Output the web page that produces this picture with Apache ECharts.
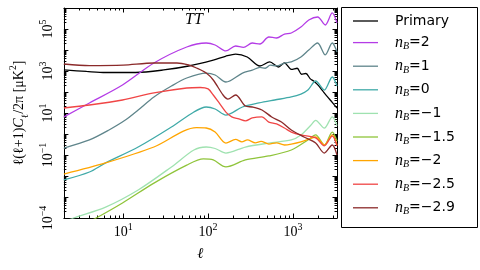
<!DOCTYPE html>
<html><head><meta charset="utf-8">
<script src="https://cdn.jsdelivr.net/npm/echarts@6/dist/echarts.min.js"></script>
<style>html,body{margin:0;padding:0;background:#fff}#c{width:480px;height:270px}</style>
</head><body><div id="c"></div>
<script>
// ---- data (ell, l(l+1)C_l/2pi in muK^2) ----
const seriesNames = ['Primary', 'nB=2', 'nB=1', 'nB=0', 'nB=−1', 'nB=−1.5', 'nB=−2', 'nB=−2.5', 'nB=−2.9'];
const seriesColors = ['#000000', '#b43ce6', '#5f858b', '#40aaa8', '#9fe2b0', '#8fc43a', '#ffa500', '#f04545', '#8b2a2a'];

const primary = [[2,1120],[3.7,950],[6.2,850],[14,850],[30,1120],[59,1730],[115,3300],[160,5000],[211,6400],[289,4650],[408,1730],[532,2700],[676,1550],[793,2450],[955,1200],[1120,1350],[1260,700],[1420,760],[1600,420],[1750,330],[2000,200],[2250,110],[2540,60],[2900,32],[3300,17]];
const nB2 = [[2,6.5],[4,30],[9.8,215],[23,2400],[56,13900],[95,21500],[121,17300],[162,9000],[211,15500],[261,13200],[331,21500],[408,19300],[519,41600],[641,37300],[793,57500],[955,64600],[1240,124000],[1535,270000],[1950,373000],[2400,155000],[2900,580000],[3300,193000]];
const nB1 = [[2,0.215],[4,0.52],[6.8,1.55],[10.6,4.6],[15,13.9],[23,58],[37,193],[56,464],[95,800],[121,645],[162,300],[254,800],[331,1100],[408,1500],[470,1350],[540,1900],[640,1750],[793,2400],[955,2690],[1240,4640],[1535,10000],[1950,21500],[2400,5800],[2900,21500],[3300,8000]];
const nB0 = [[2,0.0065],[4,0.0155],[6.2,0.042],[15,0.24],[37,2.15],[68,11.2],[95,19.3],[121,15.5],[162,8.0],[254,19.3],[398,30],[608,41.6],[955,58],[1240,80],[1500,124],[1850,334],[2340,124],[2900,518],[3300,193]];
const nBm1 = [[2,6.5e-5],[2.6,1e-4],[6.2,3.3e-4],[15,2.15e-3],[37,0.027],[68,0.173],[95,0.24],[121,0.204],[162,0.124],[275,0.24],[519,0.37],[955,0.52],[1240,0.9],[1620,2.6],[1850,4.5],[2340,1.9],[2900,6.5],[3300,2.5]];
const nBm15 = [[2,1.5e-5],[4.8,1e-4],[9.8,5.2e-4],[23,4.6e-3],[56,0.033],[88,0.065],[115,0.058],[162,0.027],[275,0.058],[519,0.09],[955,0.173],[1500,0.52],[1850,0.9],[2340,0.3],[2900,1.24],[3300,0.46]];
const nBm2 = [[2,0.0124],[6.2,0.042],[23,0.24],[73,2.0],[95,1.93],[121,1.24],[162,0.37],[211,0.55],[250,0.42],[290,0.52],[360,0.38],[420,0.45],[520,0.33],[640,0.38],[793,0.3],[955,0.33],[1240,0.42],[1600,0.6],[1850,0.72],[2340,0.3],[2900,0.9],[3300,0.3]];
const nBm25 = [[2,17.3],[4,24],[9.8,41.6],[23,90],[56,155],[81,164],[100,140],[115,72],[135,30],[162,11],[190,6.5],[230,5.2],[275,4.2],[331,5.8],[431,6.5],[519,3.7],[641,3.0],[793,1.93],[955,1.24],[1240,0.9],[1850,0.65],[2340,0.27],[2900,0.8],[3300,0.27]];
const nBm29 = [[2,2150],[4,1800],[10,1900],[23,2400],[43,2400],[59,1930],[73,1390],[95,800],[115,373],[150,72],[171,46],[211,72],[275,21.5],[331,19.3],[431,13.9],[561,6.5],[731,3.7],[955,1.55],[1345,0.72],[1850,0.37],[2340,0.124],[2900,0.3],[3300,0.1]];
const seriesData = [primary, nB2, nB1, nB0, nBm1, nBm15, nBm2, nBm25, nBm29];

// ---- ticks ----
const xMajorTicks = [10, 100, 1000];
const xMinorTicks = [2,3,4,5,6,7,8,9,20,30,40,50,60,70,80,90,200,300,400,500,600,700,800,900,2000,3000];
const yMajorTicks = [1e-4,1e-3,1e-2,1e-1,1,1e1,1e2,1e3,1e4,1e5,1e6];
const yLabelTicks = [1e-4, 1e-1, 1e1, 1e3, 1e5];
const yMinorTicks = [];
for (let d = -4; d < 6; d++) for (let k = 2; k <= 9; k++) yMinorTicks.push(k * Math.pow(10, d));

const serif = '"Liberation Serif", "DejaVu Serif", serif';
const powRich = {
  b: { fontSize: 14, fontFamily: serif, color: '#000', lineHeight: 20 },
  s: { fontSize: 10, fontFamily: serif, color: '#000', verticalAlign: 'top', lineHeight: 20 }
};
function powFmt(v) {
  const e = Math.round(Math.log10(v));
  return '{b|10}{s|' + String(e).replace('-', '−') + '}';
}

const chart = echarts.init(document.getElementById('c'), null, { renderer: 'canvas' });
const axLine = { show: true, onZero: false, lineStyle: { color: '#000', width: 1 } };
function xAx(pos, major, withLabel) {
  return {
    type: 'log', logBase: 10, min: 2, max: 3300, position: pos,
    axisLine: major ? axLine : { show: false },
    axisTick: { show: true, inside: true, length: major ? 4.5 : 2.5, customValues: major ? xMajorTicks : xMinorTicks, lineStyle: { color: '#000', width: 1 } },
    axisLabel: withLabel ? { show: true, customValues: xMajorTicks, formatter: powFmt, rich: powRich, margin: 4 } : { show: false },
    splitLine: { show: false }, minorTick: { show: false },
    name: withLabel ? 'ℓ' : '', nameLocation: 'middle', nameGap: 29,
    nameTextStyle: { fontFamily: '"DejaVu Serif", serif', fontStyle: 'italic', fontSize: 15, color: '#000' }
  };
}
function yAx(pos, major, withLabel) {
  return {
    type: 'log', logBase: 10, min: 1e-4, max: 1e6, position: pos,
    axisLine: major ? axLine : { show: false },
    axisTick: { show: true, inside: true, length: major ? 4.5 : 2.5, customValues: major ? yMajorTicks : yMinorTicks, lineStyle: { color: '#000', width: 1 } },
    axisLabel: withLabel ? { show: true, customValues: yLabelTicks, formatter: powFmt, rich: powRich, rotate: 90, margin: 6 } : { show: false },
    splitLine: { show: false }, minorTick: { show: false },
    name: withLabel ? 'ℓ(ℓ+1){c|C}{sub|ℓ}/2π [μK{sup|2}]' : '',
    nameLocation: 'middle', nameRotate: 90, nameGap: 30,
    nameTextStyle: {
      fontFamily: serif, fontSize: 14, color: '#000', lineHeight: 22,
      rich: {
        c: { fontFamily: serif, fontStyle: 'italic', fontSize: 14, color: '#000', lineHeight: 22 },
        sub: { fontFamily: serif, fontSize: 9.5, color: '#000', verticalAlign: 'bottom', lineHeight: 22 },
        sup: { fontFamily: serif, fontSize: 9.5, color: '#000', verticalAlign: 'top', lineHeight: 22 }
      }
    }
  };
}

chart.setOption({
  animation: false,
  backgroundColor: '#fff',
  grid: { left: 57, top: 8, width: 280, height: 210, containLabel: false },
  xAxis: [xAx('bottom', true, true), xAx('bottom', false, false), xAx('top', true, false), xAx('top', false, false)],
  yAxis: [yAx('left', true, true), yAx('left', false, false), yAx('right', true, false), yAx('right', false, false)],
  graphic: [
    { type: 'rect', z: 1, shape: { x: 341.5, y: 7.5, width: 136, height: 220 }, style: { fill: '#fff', stroke: '#000', lineWidth: 1 } },
    { type: 'text', z: 5, left: 185, top: 12, style: { text: 'TT', font: 'italic 16px "Liberation Serif", serif', fill: '#000' } }
  ],
  legend: {
    orient: 'vertical', left: 353, top: 14, padding: 0, itemWidth: 25, itemHeight: 14, itemGap: 6.6, z: 10,
    icon: 'path://M0,0H25V1.3H0Z',
    data: seriesNames,
    formatter: function (name) {
      if (name === 'Primary') return '{p|Primary}';
      return '{n|n}{b|B}{t|' + name.slice(2) + '}';
    },
    textStyle: {
      padding: [0, 0, 0, 12], color: '#000',
      rich: {
        p: { fontFamily: '"DejaVu Sans", sans-serif', fontSize: 14, color: '#000', lineHeight: 18 },
        n: { fontFamily: serif, fontStyle: 'italic', fontSize: 16, color: '#000', lineHeight: 18 },
        b: { fontFamily: serif, fontStyle: 'italic', fontSize: 10, color: '#000', verticalAlign: 'bottom', lineHeight: 18 },
        t: { fontFamily: '"DejaVu Sans", sans-serif', fontSize: 14, color: '#000', lineHeight: 18 }
      }
    }
  },
  series: seriesNames.map((n, i) => ({
    name: n, type: 'line', xAxisIndex: 0, yAxisIndex: 0,
    data: seriesData[i], symbol: 'none', smooth: 0.3, clip: true,
    lineStyle: { color: seriesColors[i], width: 1.3 }, itemStyle: { color: seriesColors[i] },
    z: 3
  }))
});
</script></body></html>
